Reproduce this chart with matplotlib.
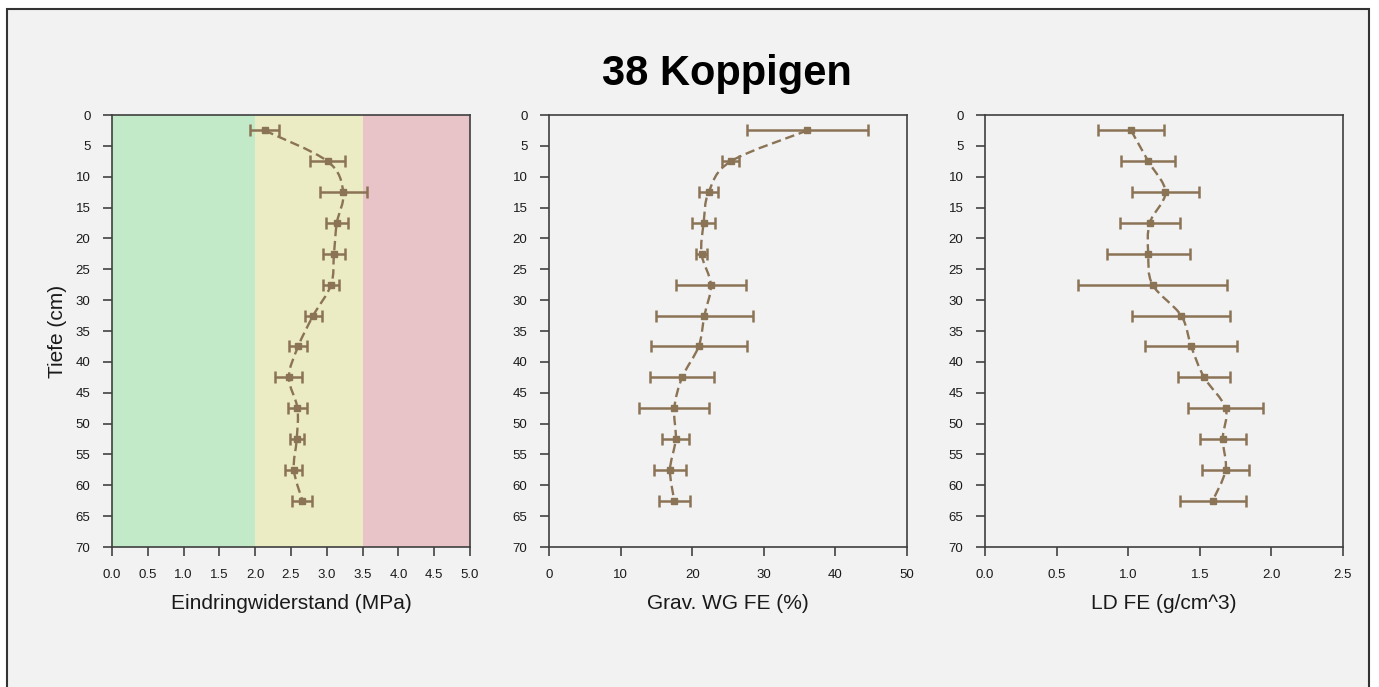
import numpy as np
import matplotlib
matplotlib.use("Agg")
import matplotlib.pyplot as plt
from matplotlib.path import Path
from matplotlib.patches import PathPatch, Rectangle
from matplotlib.transforms import IdentityTransform

plt.rcParams['font.family'] = ['Liberation Sans', 'DejaVu Sans']

title = "38 Koppigen"
depth = [2.5, 7.5, 12.5, 17.5, 22.5, 27.5, 32.5, 37.5, 42.5, 47.5, 52.5, 57.5, 62.5]

pen_mean = [2.13, 3.01, 3.23, 3.14, 3.10, 3.06, 2.81, 2.60, 2.47, 2.59, 2.58, 2.54, 2.66]
pen_sd = [0.20, 0.24, 0.33, 0.15, 0.16, 0.11, 0.12, 0.13, 0.19, 0.13, 0.10, 0.12, 0.14]

wg_mean = [36.1, 25.4, 22.3, 21.6, 21.3, 22.6, 21.7, 20.9, 18.6, 17.5, 17.7, 16.9, 17.5]
wg_sd = [8.45, 1.2, 1.3, 1.6, 0.75, 4.9, 6.8, 6.7, 4.45, 4.9, 1.9, 2.25, 2.15]

ld_mean = [1.02, 1.14, 1.26, 1.15, 1.14, 1.17, 1.37, 1.44, 1.53, 1.68, 1.66, 1.68, 1.59]
ld_sd = [0.23, 0.19, 0.235, 0.21, 0.29, 0.52, 0.34, 0.32, 0.18, 0.26, 0.16, 0.165, 0.23]

xlabels = ["Eindringwiderstand (MPa)", "Grav. WG FE (%)", "LD FE (g/cm^3)"]
xlims = [(0, 5), (0, 50), (0, 2.5)]
xticks = [np.arange(0, 5.01, 0.5), np.arange(0, 51, 10), np.arange(0, 2.51, 0.5)]
xtickfmt = ["{:.1f}", "{:.0f}", "{:.1f}"]
ylabel = "Tiefe (cm)"
yticks = list(range(0, 71, 5))

zones = [(0, 2.0, '#c3eac8'), (2.0, 3.5, '#ebebc4'), (3.5, 5.0, '#e8c3c7')]

brown = '#8b7355'
bg = '#f2f2f2'
W, H = 1379, 687
fig = plt.figure(figsize=(W / 100, H / 100), dpi=100, facecolor='white')
fig.patches.append(Rectangle((7 / W, -0.05), (1369 - 7) / W, 1 - 9 / H + 0.05,
                             transform=fig.transFigure, facecolor=bg,
                             edgecolor='#333333', linewidth=1.5, zorder=-10))

lefts = [112, 549, 985]
width_px = 358
top_px, bot_px = 115, 547
axes = []
for i, l in enumerate(lefts):
    ax = fig.add_axes([l / W, 1 - bot_px / H, width_px / W, (bot_px - top_px) / H])
    ax.set_facecolor(bg)
    ax.set_xlim(*xlims[i])
    ax.set_ylim(70, 0)
    ax.set_yticks(yticks)
    ax.set_xticks(xticks[i])
    ax.set_xticklabels([xtickfmt[i].format(v) for v in xticks[i]])
    ax.tick_params(direction='out', length=6.5, width=1.1, colors='#333333',
                   labelsize=9.5, labelcolor='#1a1a1a', pad=9)
    for s in ax.spines.values():
        s.set_color('#404040')
        s.set_linewidth(1.2)
    ax.set_xlabel(xlabels[i], fontsize=15, color='#1a1a1a', labelpad=10)
    axes.append(ax)

axes[0].set_ylabel(ylabel, fontsize=15, color='#1a1a1a', labelpad=6)
for x0, x1, c in zones:
    axes[0].axvspan(x0, x1, color=c, zorder=0, linewidth=0)

datasets = [(pen_mean, pen_sd), (wg_mean, wg_sd), (ld_mean, ld_sd)]


def smooth_path(ax, xs, ys):
    pts = ax.transData.transform(np.column_stack([xs, ys]))
    verts = [pts[0]]
    codes = [Path.MOVETO]
    n = len(pts)
    for k in range(n - 1):
        p0 = pts[k - 1] if k > 0 else pts[k]
        p1 = pts[k]
        p2 = pts[k + 1]
        p3 = pts[k + 2] if k + 2 < n else pts[k + 1]
        c1 = p1 + (p2 - p0) / 6.0
        c2 = p2 - (p3 - p1) / 6.0
        verts += [c1, c2, p2]
        codes += [Path.CURVE4] * 3
    return Path(verts, codes)


fig.text(727 / W, 1 - 85 / H, title, ha='center', va='baseline',
         fontsize=30, fontweight='bold', color='black')

for ax, (m, sd) in zip(axes, datasets):
    ax.errorbar(m, depth, xerr=sd, fmt='s', color=brown, ecolor=brown,
                markersize=5, elinewidth=1.8, capsize=4.5, capthick=1.8, zorder=4)
    p = smooth_path(ax, m, depth)
    patch = PathPatch(p, transform=IdentityTransform(), facecolor='none',
                      edgecolor=brown, linewidth=1.7, linestyle=(0, (4, 2)), zorder=3)
    ax.add_artist(patch)

fig.savefig("out.png", dpi=100, facecolor='white')
